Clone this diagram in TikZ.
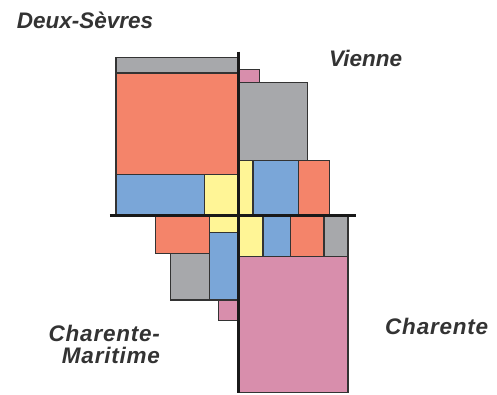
\documentclass[tikz,border=0pt]{standalone}
\usepackage{fontspec}
\newfontfamily\labelfont{Liberation Sans}
\newfontfamily\widelabelfont{Liberation Sans}[LetterSpace=3.5]
\usepackage{tikz}
\definecolor{boxorange}{RGB}{244, 132, 106}
\definecolor{boxgray}{RGB}{167, 168, 171}
\definecolor{boxblue}{RGB}{122, 166, 216}
\definecolor{boxyellow}{RGB}{255, 245, 150}
\definecolor{boxpink}{RGB}{216, 142, 172}
\usetikzlibrary{
  positioning,
}
\tikzset{
  box/.style={draw=black!80,line width=1.1pt,rectangle,inner sep=0,outer sep=0},
  axis/.style={draw=black!90,line width=2.6pt},
  region/.style={font=\labelfont\bfseries\itshape\fontsize{22.5}{22.3}\selectfont,
    text=black!80,inner sep=0},
  wideregion/.style={region,font=\widelabelfont\bfseries\itshape\fontsize{22.5}{22.3}\selectfont},
}

\begin{document}
\begin{tikzpicture}[x=1pt,y=1pt,node distance=0mm and 0mm]
      \useasboundingbox (-238.7,-179.5) rectangle (258.3,215.5);
      \coordinate (o) at (0,0);

      % upper left
      \node[box,minimum width=34.4,minimum height=40.8,fill=boxyellow,anchor=south east]
        (ulyellow) at (o) {};
      \node[box,minimum width=88.3,minimum height=40.8,fill=boxblue]    (ulblue)  [left=of ulyellow]   {};
      \node[box,minimum width=122.7,minimum height=101.7,fill=boxorange,anchor=south east]
        (ulorange) at (ulyellow.north east) {};
      \node[box,minimum width=122.7,minimum height=15.3,fill=boxgray]    (ulgray)  [above=of ulorange]   {};

      % upper right
      \node[box,minimum width=14.3,minimum height=54.8,fill=boxyellow,anchor=south west]
        (uryellow) at (o) {};
      \node[box,minimum width=45.3,minimum height=54.8,fill=boxblue]    (urblue)   [right=of uryellow]  {};
      \node[box,minimum width=31.4,minimum height=54.8,fill=boxorange]    (urorange) [right=of urblue]    {};
      \node[box,minimum width=68.6,minimum height=78,fill=boxgray,anchor=south west]
        (urgray) at (uryellow.north west) {};
      \node[box,minimum width=20.6,minimum height=13.4,fill=boxpink,anchor=south west]
        (urpink) at (urgray.north west) {};

      % lower left
      \node[box,minimum width=29,minimum height=16.8,fill=boxyellow,anchor=north east]
        (llyellow) at (o) {};
      \node[box,minimum width=29,minimum height=67.7,fill=boxblue]    (llblue)  [below=of llyellow]   {};
      \node[box,minimum width=54.4,minimum height=38.2,fill=boxorange,anchor=north east]
        (llorange) at (llyellow.north west) {};
      \node[box,minimum width=39,minimum height=46.3,fill=boxgray,anchor=south east]
        (llgray) at (llblue.south west) {};
      \node[box,minimum width=20,minimum height=20.7,fill=boxpink,anchor=north east]
        (llpink) at (llblue.south east) {};

      % lower right
      \node[box,minimum width=24.3,minimum height=41.2,fill=boxyellow,anchor=north west]
        (lryellow) at (o) {};
      \node[box,minimum width=27.3,minimum height=41.2,fill=boxblue]    (lrblue)   [right=of lryellow]  {};
      \node[box,minimum width=33.7,minimum height=41.2,fill=boxorange]    (lrorange) [right=of lrblue]    {};
      \node[box,minimum width=24,minimum height=41.2,fill=boxgray]    (lrgray)   [right=of lrorange]  {};
      \node[box,minimum width=109.3,minimum height=135.6,fill=boxpink,anchor=north west]
        (lrpink) at (lryellow.south west) {};

      % axes
      \coordinate (vtop) at (0,163.8);
      \coordinate (vbot) at (0,-177.5);
      \coordinate (hleft) at (-128.7,0);
      \coordinate (hright) at (117.3,0);
      \draw[axis] (vtop) -- (vbot);
      \draw[axis] (hleft) -- (hright);

      % department names
      \node[region,anchor=base west] (deux) at (-222,187.2) {Deux-Sèvres};
      \node[region,anchor=base west] (vienne) at (90.3,148.8) {Vienne};
      \node[wideregion,anchor=base west] (charente) at (146.3,-118.8) {Charente};
      \node[wideregion,anchor=north east,align=right] (maritime) at (-78.5,-109.2) {Charente-\\Maritime};
    \end{tikzpicture}
\end{document}
